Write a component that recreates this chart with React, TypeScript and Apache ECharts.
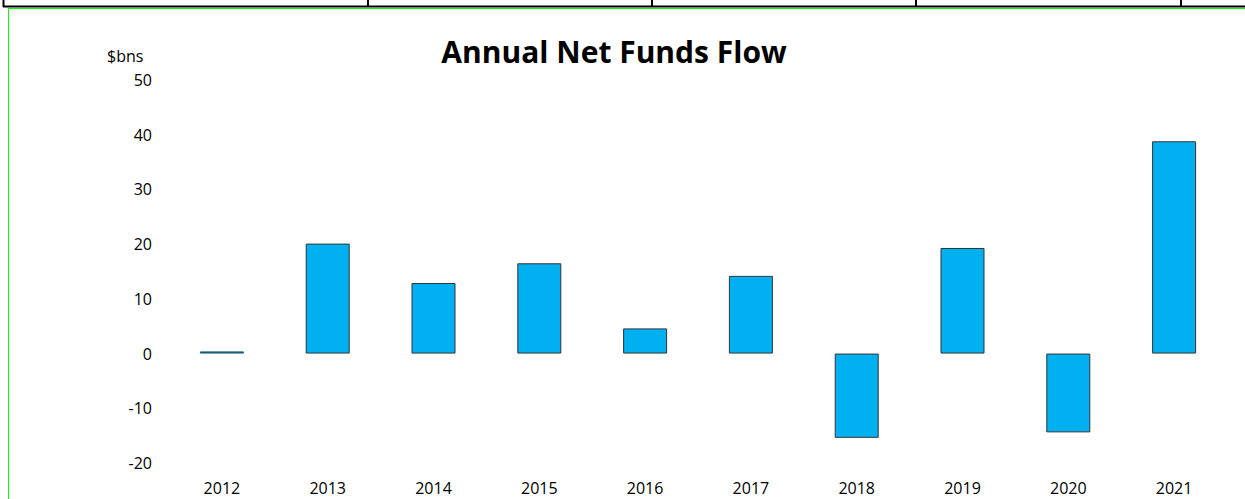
import React, { useEffect, useRef } from "react";
import * as echarts from "echarts";

const categories = ["2012", "2013", "2014", "2015", "2016", "2017", "2018", "2019", "2020", "2021"];
const flows = [0.4, 20.1, 12.9, 16.5, 4.6, 14.2, -15.4, 19.3, -14.4, 38.8];
const yTicks = { min: -20, max: 50, interval: 10 };

const FONT = "'Open Sans', Lato, sans-serif";

export default function App() {
  const ref = useRef<HTMLDivElement>(null);
  useEffect(() => {
    const chart = echarts.init(ref.current!, null, { renderer: "svg" });
    chart.setOption({
      animation: false,
      backgroundColor: "#ffffff",
      title: {
        text: "Annual Net Funds Flow",
        left: 609,
        top: 31,
        textAlign: "center",
        textStyle: { fontFamily: FONT, fontSize: 30, fontWeight: "bold", color: "#000" },
      },
      grid: { left: 169, right: 18, top: 80, bottom: 36, containLabel: false },
      xAxis: {
        type: "category",
        data: categories,
        position: "bottom",
        axisLine: { show: false },
        axisTick: { show: false },
        axisLabel: { fontFamily: FONT, fontSize: 16, color: "#000", margin: 17 },
        splitLine: { show: false },
      },
      yAxis: {
        type: "value",
        min: yTicks.min,
        max: yTicks.max,
        interval: yTicks.interval,
        axisLine: { show: false },
        axisTick: { show: false },
        splitLine: { show: false },
        axisLabel: { fontFamily: FONT, fontSize: 16, color: "#000", margin: 17 },
      },
      series: [
        {
          type: "bar",
          data: flows.map((v, i) =>
            i === 0
              ? { value: v, itemStyle: { color: "#1d5f78", borderColor: "#1d5f78" } }
              : v
          ),
          barWidth: 44,
          itemStyle: { color: "#00B0F0", borderColor: "#333", borderWidth: 1 },
        },
      ],
      graphic: [
        { type: "text", left: 107, top: 48, style: { text: "$bns", fontFamily: FONT, fontSize: 16, fill: "#000" } },
        { type: "line", shape: { x1: 3, y1: 6.5, x2: 1245, y2: 6.5 }, style: { stroke: "#000", lineWidth: 2 } },
        { type: "line", shape: { x1: 3.5, y1: 0, x2: 3.5, y2: 7 }, style: { stroke: "#000", lineWidth: 2 } },
        { type: "line", shape: { x1: 368, y1: 0, x2: 368, y2: 7 }, style: { stroke: "#000", lineWidth: 2 } },
        { type: "line", shape: { x1: 652, y1: 0, x2: 652, y2: 7 }, style: { stroke: "#000", lineWidth: 2 } },
        { type: "line", shape: { x1: 916, y1: 0, x2: 916, y2: 7 }, style: { stroke: "#000", lineWidth: 2 } },
        { type: "line", shape: { x1: 1181, y1: 0, x2: 1181, y2: 7 }, style: { stroke: "#000", lineWidth: 2 } },
        { type: "line", shape: { x1: 8, y1: 8.5, x2: 1245, y2: 8.5 }, style: { stroke: "#00ff00", lineWidth: 1 } },
        { type: "line", shape: { x1: 8.5, y1: 8, x2: 8.5, y2: 499 }, style: { stroke: "#00ff00", lineWidth: 1 } },
      ],
    });
    return () => chart.dispose();
  }, []);
  return (
    <div
      ref={ref}
      style={{ position: "fixed", left: 0, top: 0, width: 1245, height: 499 }}
    />
  );
}
